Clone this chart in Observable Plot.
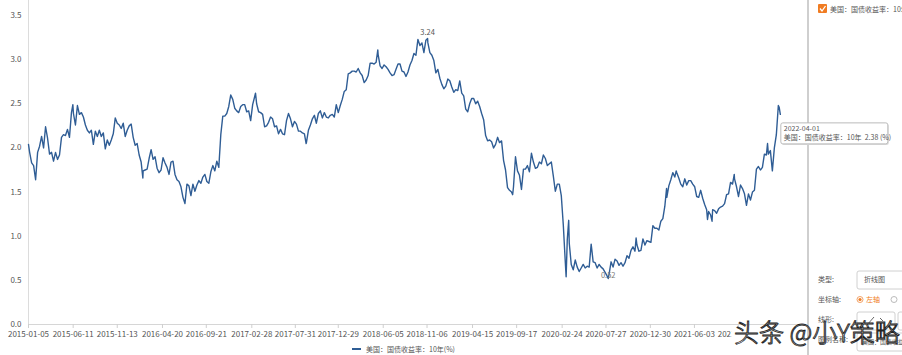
<!DOCTYPE html>
<html><head><meta charset="utf-8">
<script src="https://cdn.jsdelivr.net/npm/d3@7"></script>
<script src="https://cdn.jsdelivr.net/npm/@observablehq/plot@0.6"></script>
<style>
body{margin:0;background:#fff;}
#chart{position:relative;width:902px;height:355px;overflow:hidden;font-family:"Noto Sans CJK SC","Noto Sans",sans-serif;}
</style>
</head><body><div id="chart"></div>
<script>
const seriesName = "美国：国债收益率：10年(%)";
const tipName = "美国：国债收益率：10年";
// weekly (Friday) values, first Friday of each year listed in yearStarts
const yearStarts = ["2015-01-09","2016-01-01","2017-01-06","2018-01-05","2019-01-04","2020-01-03","2021-01-01","2022-01-07"];
const v2015 = [1.95,1.83,1.80,1.64, 1.95,2.02,2.13,2.00, 2.24,2.11,1.93,1.95, 1.85,1.95,1.87,1.92, 2.12,2.15,2.14,2.21,2.12, 2.40,2.39,2.26,2.48, 2.38,2.40,2.35,2.26,2.20, 2.17,2.20,2.04,2.19, 2.13,2.20,2.13,2.17, 1.99,2.09,2.03,2.09,2.16, 2.34,2.28,2.26,2.22, 2.28,2.13,2.20,2.25];
const v2016 = [2.27, 2.12,2.03,2.05,1.92, 1.84,1.74,1.75,1.76, 1.88,1.98,1.87,1.90, 1.77,1.72,1.75,1.89,1.83, 1.78,1.70,1.84,1.85, 1.70,1.64,1.62,1.56, 1.44,1.37,1.59,1.57,1.46, 1.59,1.51,1.58,1.63, 1.60,1.67,1.70,1.62,1.60, 1.73,1.80,1.74,1.85, 1.78,2.15,2.36,2.36, 2.39,2.47,2.60,2.55,2.45];
const v2017 = [2.42,2.40,2.47,2.49, 2.49,2.41,2.42,2.31, 2.49,2.58,2.50,2.41,2.40, 2.38,2.24,2.25,2.29, 2.35,2.33,2.24,2.25, 2.16,2.21,2.16,2.15,2.31, 2.39,2.33,2.24,2.30, 2.27,2.19,2.19,2.17, 2.16,2.06,2.20,2.26,2.33, 2.37,2.28,2.39,2.42, 2.34,2.40,2.35,2.34, 2.37,2.38,2.35,2.49,2.40];
const v2018 = [2.48,2.55,2.64,2.66, 2.84,2.85,2.87,2.87, 2.86,2.90,2.85,2.82,2.74, 2.77,2.82,2.96,2.96, 2.95,2.97,3.06,2.93, 2.90,2.94,2.92,2.89,2.85, 2.82,2.83,2.89,2.95, 2.95,2.87,2.86,2.81,2.86, 2.94,2.99,3.07,3.05, 3.23,3.16,3.19,3.08, 3.22,3.19,3.08,3.05,2.99, 2.85,2.89,2.79,2.72];
const v2019 = [2.67,2.70,2.78,2.76, 2.69,2.63,2.66,2.65, 2.76,2.62,2.59,2.44,2.41, 2.50,2.56,2.56,2.50, 2.53,2.47,2.39,2.32,2.14, 2.08,2.09,2.07,2.00, 2.04,2.12,2.06,2.08, 1.86,1.75,1.55,1.52,1.50, 1.56,1.90,1.74,1.69, 1.53,1.76,1.76,1.80, 1.73,1.94,1.84,1.77,1.78, 1.84,1.82,1.92,1.88];
const v2020 = [1.80,1.82,1.84,1.68,1.51, 1.59,1.59,1.46,1.13, 0.71,0.96,0.92,0.68, 0.62,0.73,0.65,0.60, 0.64,0.68,0.64,0.66,0.65, 0.91,0.71,0.70,0.64, 0.68,0.65,0.63,0.59,0.55, 0.57,0.71,0.65,0.74, 0.72,0.67,0.70,0.66, 0.70,0.78,0.75,0.84,0.88, 0.83,0.90,0.83,0.84, 0.97,0.90,0.95,0.94];
const v2021 = [0.93, 1.12,1.09,1.09,1.07, 1.17,1.20,1.34,1.44, 1.57,1.64,1.72,1.67, 1.72,1.66,1.59,1.56,1.65, 1.58,1.63,1.63,1.59, 1.56,1.45,1.44,1.52, 1.43,1.36,1.30,1.28,1.24, 1.30,1.29,1.26,1.31, 1.33,1.34,1.37,1.47, 1.48,1.61,1.59,1.65,1.56, 1.45,1.58,1.54,1.48, 1.35,1.48,1.41,1.50,1.52];
const v2022 = [1.76,1.79,1.75,1.78, 1.93,1.92,1.93,1.97, 1.74,2.00,2.15,2.48, 2.38];
// individual days (extremes)
const extraDays = ["2015-01-05","2015-06-10","2016-02-11","2017-03-13","2017-09-07","2018-05-17","2018-11-08","2019-09-03","2020-03-09","2020-03-18","2020-08-04","2020-11-10","2021-02-25","2021-03-31","2021-07-19","2021-08-04","2021-10-21","2022-02-15","2022-03-28"];
const extraValues = [2.04,2.49,1.66,2.62,2.05,3.11,3.24,1.47,0.54,1.18,0.52,0.98,1.54,1.74,1.19,1.17,1.70,2.05,2.46];
const xTickLabels = ["2015-01-05","2015-06-11","2015-11-13","2016-04-20","2016-09-21","2017-02-28","2017-07-31","2017-12-29","2018-06-05","2018-11-06","2019-04-15","2019-09-17","2020-02-24","2020-07-27","2020-12-30","2021-06-03","2021-11-04"];
const yTicks = [0,0.5,1.0,1.5,2.0,2.5,3.0,3.5];
const tipDate = "2022-04-01";
const tipValue = 2.38;

const parse = d3.utcParse("%Y-%m-%d");
const yearly = [v2015,v2016,v2017,v2018,v2019,v2020,v2021,v2022];
const data = [];
yearly.forEach((vals,k)=>{
  const s = parse(yearStarts[k]);
  vals.forEach((v,i)=>data.push({date:d3.utcDay.offset(s,7*i), value:v}));
});
extraDays.forEach((d,i)=>data.push({date:parse(d), value:extraValues[i]}));
data.sort((a,b)=>a.date-b.date);
const maxPt = d3.greatest(data,d=>d.value);
const minPt = d3.least(data,d=>d.value);

const FONT = '"Noto Sans CJK SC","Noto Sans",sans-serif';
const LINE = "#2f5d95";
const x0 = parse("2015-01-05");
const plot = Plot.plot({
  width:902, height:355,
  marginLeft:28, marginRight:96, marginTop:0, marginBottom:31,
  style:{fontFamily:FONT, fontSize:"8px", color:"#555", background:"transparent"},
  x:{type:"utc", domain:[x0, parse("2022-07-02")]},
  y:{domain:[0,3.67]},
  marks:[
    Plot.ruleY([0],{stroke:"#d6d6d6"}),
    Plot.ruleX([x0],{stroke:"#dcdcdc"}),
    Plot.axisX({ticks:xTickLabels.map(parse), tickFormat:d3.utcFormat("%Y-%m-%d"), tickSize:4, tickPadding:3, fontSize:8, label:null}),
    Plot.axisY({ticks:yTicks, tickFormat:d=>d.toFixed(1), tickSize:0, tickPadding:7, fontSize:8, label:null}),
    Plot.line(data,{x:"date", y:"value", stroke:LINE, strokeWidth:1.4}),
    Plot.text([maxPt],{x:"date", y:"value", text:d=>d.value.toFixed(2), dy:-6, fill:"#555", fontSize:7.5}),
    Plot.text([minPt],{x:"date", y:"value", text:d=>d.value.toFixed(2), dy:-3, fill:"#777", fontSize:7.5})
  ]
});
document.getElementById("chart").appendChild(plot);
const svg = d3.select(plot);
svg.select('g[aria-label="x-axis tick"]').attr("stroke","#cfcfcf");
// the watermark hides the right part of the x labels, as in the reference
svg.append("clipPath").attr("id","xclip").append("rect").attr("x",0).attr("y",0).attr("width",731).attr("height",355);
svg.select('g[aria-label="x-axis tick label"]').attr("clip-path","url(#xclip)");

// legend
const leg = svg.append("g").attr("text-anchor","start").attr("font-family",FONT);
leg.append("line").attr("x1",352).attr("x2",361).attr("y1",349).attr("y2",349).attr("stroke",LINE).attr("stroke-width",2);
leg.append("text").attr("x",366).attr("y",351.5).attr("font-size",7).attr("fill","#555").text(seriesName);

// right panel
const panel = svg.append("g").attr("font-family",FONT).attr("font-size",7).attr("fill","#555").attr("text-anchor","start");
panel.append("rect").attr("x",808).attr("y",0).attr("width",94).attr("height",355).attr("fill","#fff");
panel.append("line").attr("x1",808).attr("x2",808).attr("y1",0).attr("y2",355).attr("stroke","#cfcfcf").attr("stroke-width",2);
panel.append("rect").attr("x",818).attr("y",4).attr("width",9).attr("height",9).attr("fill","#f07c22").attr("rx",1);
panel.append("path").attr("d","M820 8.5 L822 11 L825.5 6").attr("stroke","#fff").attr("stroke-width",1.3).attr("fill","none");
panel.append("text").attr("x",830).attr("y",11.5).text("美国：国债收益率：10年");
panel.append("text").attr("x",818).attr("y",282).text("类型:");
panel.append("rect").attr("x",857).attr("y",271).attr("width",52).attr("height",18).attr("fill","#fff").attr("stroke","#d0d0d0").attr("rx",2);
panel.append("text").attr("x",864).attr("y",282).text("折线图");
panel.append("text").attr("x",818).attr("y",302).text("坐标轴:");
panel.append("circle").attr("cx",860).attr("cy",299.5).attr("r",3).attr("fill","#fff").attr("stroke","#f3a46a");
panel.append("circle").attr("cx",860).attr("cy",299.5).attr("r",1.6).attr("fill","#f07c22");
panel.append("text").attr("x",866).attr("y",302).attr("fill","#f07c22").text("左轴");
panel.append("circle").attr("cx",894).attr("cy",299.5).attr("r",3).attr("fill","#fff").attr("stroke","#bbb");
panel.append("text").attr("x",818).attr("y",322).text("线形:");
panel.append("rect").attr("x",857).attr("y",312).attr("width",38).attr("height",18).attr("fill","#fff").attr("stroke","#d0d0d0").attr("rx",2);
panel.append("path").attr("d","M867 325 L874 317 M880 318 L883 321").attr("stroke","#666").attr("stroke-width",1);
panel.append("rect").attr("x",898).attr("y",312).attr("width",10).attr("height",18).attr("fill","#fff").attr("stroke","#d0d0d0").attr("rx",2);
panel.append("text").attr("x",818).attr("y",342).text("图例名称:");
panel.append("rect").attr("x",857).attr("y",333).attr("width",52).attr("height",18).attr("fill","#fff").attr("stroke","#d0d0d0").attr("rx",2);
panel.append("text").attr("x",862).attr("y",344).attr("font-size",6).text("美国：国债收益");

// tooltip at last point
const sx = plot.scale("x"), sy = plot.scale("y");
const tx = sx.apply(parse(tipDate)) + 1, ty = sy.apply(tipValue) + 9;
const tip = svg.append("g").attr("font-family",FONT).attr("font-size",7).attr("fill","#555").attr("text-anchor","start");
tip.append("rect").attr("x",tx+1).attr("y",ty+1).attr("width",107).attr("height",21).attr("fill","#ddd").attr("rx",2);
tip.append("rect").attr("x",tx).attr("y",ty).attr("width",107).attr("height",21).attr("fill","#fff").attr("stroke","#bbb").attr("rx",2);
tip.append("text").attr("x",tx+3).attr("y",ty+8).text(tipDate);
tip.append("text").attr("x",tx+3).attr("y",ty+17.5).text(tipName + "  " + tipValue.toFixed(2) + " (%)");

// watermark
svg.append("text").attr("x",734).attr("y",342).attr("text-anchor","start").attr("font-family",FONT).attr("font-size",25).attr("font-weight",300)
  .attr("fill","#fff").attr("stroke","#222").attr("stroke-width",0.9).text("头条 @小Y策略");
</script>
</body></html>
